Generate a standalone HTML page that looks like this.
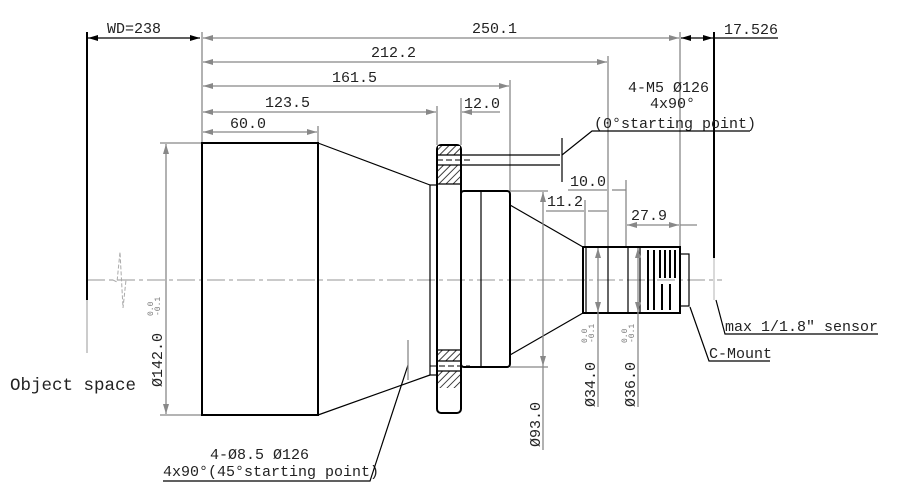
<!DOCTYPE html>
<html><head><style>
html,body{margin:0;padding:0;background:#fff;}
svg{display:block;}
text{font-family:"Liberation Mono","DejaVu Sans Mono",monospace;font-size:15px;fill:#222;}
.g{stroke:#888;stroke-width:1.3;fill:none}
.k{stroke:#000;stroke-width:2;fill:none}
.t{stroke:#000;stroke-width:1.2;fill:none}
</style></head><body>
<svg width="900" height="498" viewBox="0 0 900 498" xmlns="http://www.w3.org/2000/svg">
<defs>
<marker id="a" viewBox="0 0 10 6" refX="10" refY="3" markerWidth="10" markerHeight="6" orient="auto-start-reverse" markerUnits="userSpaceOnUse"><path d="M0,0L10,3L0,6z" fill="#888"/></marker>
<marker id="b" viewBox="0 0 10 6" refX="10" refY="3" markerWidth="10" markerHeight="6" orient="auto-start-reverse" markerUnits="userSpaceOnUse"><path d="M0,0L10,3L0,6z" fill="#000"/></marker>
<pattern id="h" width="5" height="5" patternUnits="userSpaceOnUse" patternTransform="rotate(45)"><rect width="5" height="5" fill="#fff"/><line x1="0" y1="0" x2="0" y2="5" stroke="#000" stroke-width="1.5"/></pattern>
</defs>
<line x1="87" y1="280" x2="722" y2="280" stroke="#aaa" stroke-width="1.2" stroke-dasharray="18,4,4,4"/>
<path d="M113,280 L117,282 L120,252 L123,308 L126,280" stroke="#aaa" fill="none" stroke-dasharray="4,2"/>
<line x1="87" y1="32" x2="87" y2="300" stroke="#000" stroke-width="2"/>
<line x1="87" y1="300" x2="87" y2="353" stroke="#aaa" stroke-width="1.2"/>
<line x1="88" y1="38" x2="200" y2="38" class="t" marker-start="url(#b)" marker-end="url(#b)"/>
<text x="107" y="33">WD=238</text>
<line x1="202" y1="32" x2="202" y2="143" class="g"/>
<line x1="680" y1="32" x2="680" y2="247" class="g"/>
<line x1="608" y1="56" x2="608" y2="247" class="g"/>
<line x1="510" y1="80" x2="510" y2="191" class="g"/>
<line x1="437" y1="106" x2="437" y2="145" class="g"/>
<line x1="461" y1="98" x2="461" y2="145" class="g"/>
<line x1="318" y1="126" x2="318" y2="143" class="g"/>
<line x1="626" y1="180" x2="626" y2="247" class="g"/>
<line x1="585" y1="200" x2="585" y2="247" class="g"/>
<line x1="203" y1="38" x2="679" y2="38" class="g" marker-start="url(#a)" marker-end="url(#a)"/>
<text x="472" y="33">250.1</text>
<line x1="681" y1="38" x2="713" y2="38" class="t" marker-start="url(#b)" marker-end="url(#b)"/>
<line x1="713" y1="38" x2="778" y2="38" class="t"/>
<text x="724" y="34">17.526</text>
<line x1="203" y1="62" x2="607" y2="62" class="g" marker-start="url(#a)" marker-end="url(#a)"/>
<text x="371" y="57">212.2</text>
<line x1="203" y1="86" x2="509" y2="86" class="g" marker-start="url(#a)" marker-end="url(#a)"/>
<text x="332" y="82">161.5</text>
<line x1="203" y1="112" x2="436" y2="112" class="g" marker-start="url(#a)" marker-end="url(#a)"/>
<text x="265" y="107">123.5</text>
<line x1="462" y1="112" x2="500" y2="112" class="g" marker-start="url(#a)"/>
<text x="464" y="108">12.0</text>
<line x1="203" y1="132" x2="317" y2="132" class="g" marker-start="url(#a)" marker-end="url(#a)"/>
<text x="230" y="128">60.0</text>
<line x1="568" y1="190" x2="607" y2="190" class="g"/>
<line x1="612" y1="190" x2="626" y2="190" class="g"/>
<text x="570" y="186">10.0</text>
<line x1="546" y1="211" x2="584" y2="211" class="g"/>
<line x1="588" y1="211" x2="607" y2="211" class="g"/>
<text x="547" y="206">11.2</text>
<line x1="627" y1="225" x2="679" y2="225" class="g" marker-start="url(#a)" marker-end="url(#a)"/>
<line x1="680" y1="225" x2="697" y2="225" class="g"/>
<text x="631" y="220">27.9</text>
<line x1="714" y1="32" x2="714" y2="258" stroke="#000" stroke-width="2"/>
<line x1="714" y1="258" x2="714" y2="300" stroke="#ccc" stroke-width="1.5"/>
<line x1="160" y1="143" x2="202" y2="143" class="g"/>
<line x1="160" y1="415" x2="202" y2="415" class="g"/>
<line x1="166" y1="144" x2="166" y2="414" class="g" marker-start="url(#a)" marker-end="url(#a)"/>
<text transform="translate(162,387) rotate(-90)">Ø142.0</text>
<text transform="translate(153,316) rotate(-90)" style="font-size:8px;fill:#777">0.0</text>
<text transform="translate(160,316) rotate(-90)" style="font-size:8px;fill:#777">-0.1</text>
<rect x="202" y="143" width="116" height="272" class="k"/>
<path d="M318,143 L430,185 M318,415 L430,375" class="t"/>
<rect x="430" y="185" width="7" height="190" class="t"/>
<rect x="437" y="145" width="24" height="268" rx="4" class="k"/>
<rect x="438" y="146" width="22" height="38" fill="url(#h)"/>
<rect x="438" y="350" width="22" height="38" fill="url(#h)"/>
<rect x="438" y="155" width="22" height="10" fill="#fff"/>
<rect x="438" y="361" width="22" height="10" fill="#fff"/>
<line x1="437" y1="155" x2="560" y2="155" class="t"/>
<line x1="437" y1="165" x2="560" y2="165" class="t"/>
<line x1="437" y1="160" x2="470" y2="160" stroke="#000" stroke-dasharray="6,3"/>
<line x1="430" y1="366" x2="470" y2="366" stroke="#000" stroke-dasharray="6,3"/>
<line x1="437" y1="361" x2="461" y2="361" class="t"/>
<line x1="437" y1="371" x2="461" y2="371" class="t"/>
<line x1="437" y1="184" x2="461" y2="184" class="t"/>
<line x1="437" y1="350" x2="461" y2="350" class="t"/>
<rect x="461" y="191" width="49" height="176" rx="3" class="k"/>
<line x1="481" y1="191" x2="481" y2="367" class="t"/>
<path d="M510,205 L583,247 M510,355 L583,313" class="t"/>
<line x1="510" y1="191" x2="548" y2="191" class="g"/>
<line x1="510" y1="367" x2="548" y2="367" class="g"/>
<line x1="543" y1="192" x2="543" y2="366" class="g" marker-start="url(#a)" marker-end="url(#a)"/>
<line x1="543" y1="366" x2="543" y2="450" class="g"/>
<text transform="translate(540,447) rotate(-90)">Ø93.0</text>
<rect x="583" y="247" width="97" height="66" class="k"/>
<line x1="586" y1="247" x2="586" y2="313" class="t"/>
<line x1="608" y1="247" x2="608" y2="313" class="t"/>
<line x1="628" y1="247" x2="628" y2="313" class="t"/>
<line x1="640" y1="247" x2="640" y2="313" class="t"/>
<g stroke="#000" stroke-width="2">
<line x1="648" y1="250" x2="648" y2="310"/><line x1="654" y1="250" x2="654" y2="310"/>
<line x1="660" y1="250" x2="660" y2="278"/><line x1="665" y1="250" x2="665" y2="278"/><line x1="670" y1="250" x2="670" y2="278"/><line x1="675" y1="250" x2="675" y2="278"/>
<line x1="662" y1="284" x2="662" y2="310"/><line x1="670" y1="284" x2="670" y2="310"/>
</g>
<rect x="680" y="254" width="9" height="52" class="t"/>
<line x1="598" y1="248" x2="598" y2="312" class="g" marker-start="url(#a)" marker-end="url(#a)"/>
<line x1="598" y1="312" x2="598" y2="407" class="g"/>
<text transform="translate(595,407) rotate(-90)">Ø34.0</text>
<text transform="translate(587,343) rotate(-90)" style="font-size:8px;fill:#777">0.0</text>
<text transform="translate(594,343) rotate(-90)" style="font-size:8px;fill:#777">-0.1</text>
<line x1="638" y1="248" x2="638" y2="312" class="g" marker-start="url(#a)" marker-end="url(#a)"/>
<line x1="638" y1="312" x2="638" y2="407" class="g"/>
<text transform="translate(635,407) rotate(-90)">Ø36.0</text>
<text transform="translate(627,343) rotate(-90)" style="font-size:8px;fill:#777">0.0</text>
<text transform="translate(634,343) rotate(-90)" style="font-size:8px;fill:#777">-0.1</text>
<text x="628" y="92">4-M5 Ø126</text>
<text x="650" y="108">4x90°</text>
<text x="594" y="128">(0°starting point)</text>
<path d="M750,131 L592,131 L562,155" class="t"/>
<line x1="562" y1="138" x2="562" y2="182" class="t"/>
<text x="210" y="459">4-Ø8.5 Ø126</text>
<text x="163" y="476">4x90°(45°starting point)</text>
<path d="M163,481 L370,481 L408,365" class="t"/>
<line x1="408" y1="340" x2="408" y2="380" class="g"/>
<text x="725" y="331">max 1/1.8″ sensor</text>
<path d="M878,334 L725,334 L716,300" class="t"/>
<text x="709" y="358">C-Mount</text>
<path d="M770,361 L709,361 L690,307" class="t"/>
<text x="10" y="390" style="font-size:17.5px">Object space</text>
</svg>
</body></html>
